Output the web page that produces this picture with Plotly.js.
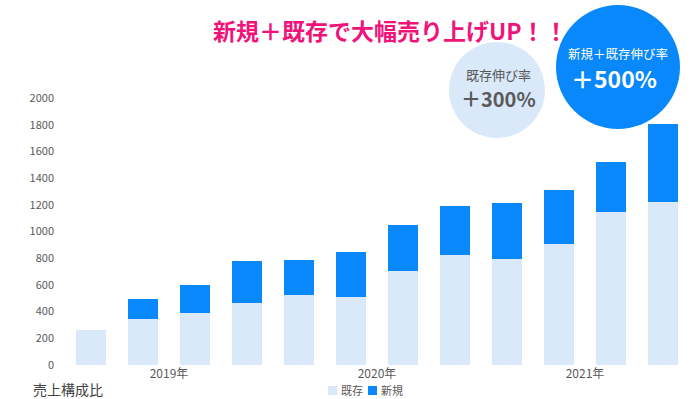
<!DOCTYPE html>
<html>
<head>
<meta charset="utf-8">
<script src="https://cdn.plot.ly/plotly-3.0.1.min.js"></script>
<style>
html,body{margin:0;padding:0;background:#fff;}
#chart{width:696px;height:399px;}
</style>
</head>
<body>
<div id="chart"></div>
<script>
// ---- data ----
const periods = [0,1,2,3,4,5,6,7,8,9,10,11];
const existingName = "既存";
const newName = "新規";
const existingSales = [260,345,390,465,525,510,705,825,795,905,1145,1220];
const newSales = [0,150,210,315,265,335,345,365,420,405,375,585];
const yearTickPos = [1.5,5.5,9.5];
const yearTickText = ["2019年","2020年","2021年"];
const titleText = "新規＋既存で大幅売り上げUP！！";
const footText = "売上構成比";
const bubbleA = ["既存伸び率","＋300%"];
const bubbleB = ["新規＋既存伸び率","＋500%"];

// ---- layout geometry ----
const W = 696, H = 399;
const L = 65, R = 7, T = 98, B = 34;
const PW = W - L - R, PH = H - T - B;
const px = x => (x - L) / PW;
const py = y => (H - B - y) / PH;

const cLight = "#d9e9f9";
const cDark = "#0888fa";
const font = "'Noto Sans CJK JP', 'Noto Sans', sans-serif";

const traces = [
  {type:"bar", name:existingName, x:periods, y:existingSales, marker:{color:cLight}, hoverinfo:"y"},
  {type:"bar", name:newName, x:periods, y:newSales, marker:{color:cDark}, hoverinfo:"y"}
];

function circle(cx, cy, r, color){
  return {type:"circle", xref:"paper", yref:"paper", x0:px(cx-r), x1:px(cx+r), y0:py(cy+r), y1:py(cy-r),
          fillcolor:color, line:{width:0}, layer:"above"};
}
function ann(text, x, y, size, color, extra){
  return Object.assign({text:text, xref:"paper", yref:"paper", x:px(x), y:py(y), showarrow:false,
    xanchor:"center", yanchor:"middle", font:{family:font, size:size, color:color}}, extra||{});
}

const layout = {
  width:W, height:H,
  margin:{l:L, r:R, t:T, b:B, pad:0},
  barmode:"stack",
  bargap:0.42,
  showlegend:false,
  paper_bgcolor:"#fff", plot_bgcolor:"#fff",
  font:{family:font, color:"#595959"},
  xaxis:{range:[-0.5,11.5], tickmode:"array", tickvals:yearTickPos, ticktext:yearTickText,
         showgrid:false, zeroline:false, showline:false, ticks:"", tickfont:{size:12, color:"#595959"}},
  yaxis:{range:[0,2000], tickmode:"linear", dtick:200, showgrid:false, zeroline:false, showline:false,
         ticks:"", ticklabelstandoff:10, tickfont:{size:11, color:"#595959"}},
  shapes:[
    circle(497, 90, 48, "#d9e9f9"),
    circle(618, 67, 62, "#0888fa"),
    {type:"rect", xref:"paper", yref:"paper", x0:px(328), x1:px(337), y0:py(395), y1:py(386), fillcolor:cLight, line:{width:0}},
    {type:"rect", xref:"paper", yref:"paper", x0:px(368), x1:px(377), y0:py(395), y1:py(386), fillcolor:cDark, line:{width:0}}
  ],
  annotations:[
    ann("<b>"+titleText+"</b>", 390, 30, 23, "#f2137a"),
    ann(footText, 68, 389, 14, "#404040"),
    ann(bubbleA[0], 498, 74, 13, "#595959"),
    ann("<b>"+bubbleA[1]+"</b>", 498, 98, 20, "#595959"),
    ann(bubbleB[0], 618, 53, 12.5, "#ffffff"),
    ann("<b>"+bubbleB[1]+"</b>", 614, 78, 23, "#ffffff"),
    ann(existingName, 339, 390, 11, "#595959", {xanchor:"left"}),
    ann(newName, 379, 390, 11, "#595959", {xanchor:"left"})
  ]
};

Plotly.newPlot("chart", traces, layout, {displayModeBar:false, staticPlot:true});
</script>
</body>
</html>
